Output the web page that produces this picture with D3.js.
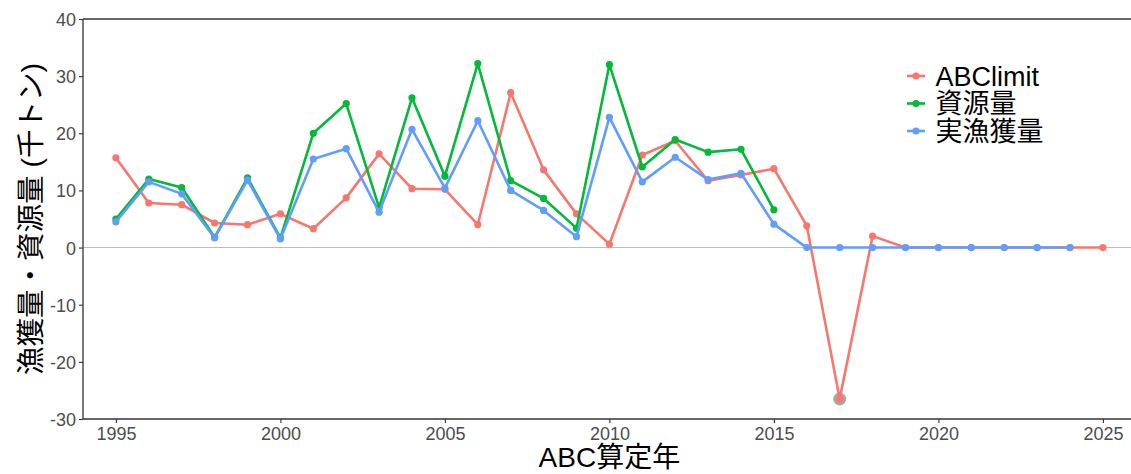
<!DOCTYPE html>
<html><head><meta charset="utf-8">
<script src="https://cdn.jsdelivr.net/npm/d3@7"></script>
<style>
body{margin:0;background:#fff;}
svg{display:block;font-family:"Liberation Sans","Noto Sans CJK JP",sans-serif;}
</style></head>
<body><svg id="c" width="1131" height="474"></svg>
<script>
const years = d3.range(1995, 2026);
const abcLimit = [15.7,7.8,7.5,4.3,4.0,5.9,3.3,8.7,16.4,10.3,10.2,4.0,27.1,13.6,5.9,0.6,16.2,18.7,11.7,12.7,13.8,3.8,-26.5,2.0,0,0,0,0,0,0,0];
const biomass = [5.0,12.0,10.5,1.8,12.2,1.7,20.0,25.2,7.0,26.2,12.5,32.2,11.7,8.6,3.4,32.0,14.1,18.9,16.7,17.2,6.6];
const catchVals = [4.5,11.5,9.4,1.7,11.8,1.5,15.5,17.3,6.2,20.7,10.4,22.2,10.0,6.5,1.9,22.8,11.5,15.8,11.9,13.0,4.1,0,0,0,0,0,0,0,0,0];
const highlightYears = [2017];
const seriesNames = ["ABClimit","資源量","実漁獲量"];
const seriesColors = ["#F8766D","#00BA38","#619CFF"];
const yTicks = [-30,-20,-10,0,10,20,30,40];
const xTicks = [1995,2000,2005,2010,2015,2020,2025];

const svg = d3.select("#c");
const L = 83, T = 19, B = 419;
const x = d3.scaleLinear().domain([1994, 2026]).range([L, L + 32*32.9]);
const y = d3.scaleLinear().domain([-30, 40]).range([B, T]);

// zero line
svg.append("line").attr("x1", L).attr("x2", 1131).attr("y1", y(0)).attr("y2", y(0))
  .attr("stroke", "#bebebe").attr("stroke-width", 1.1);

const series = [abcLimit, biomass, catchVals].map((vals, i) => ({
  name: seriesNames[i], color: seriesColors[i],
  pts: vals.map((v, j) => ({yr: years[j], v}))
}));

// highlight point(s)
svg.selectAll("circle.hl").data(highlightYears).enter().append("circle")
  .attr("cx", d => x(d)).attr("cy", d => y(abcLimit[years.indexOf(d)]))
  .attr("r", 6.5).attr("fill", "#a8a8a8");

const line = d3.line().x(d => x(d.yr)).y(d => y(d.v));
series.forEach(s => {
  svg.append("path").datum(s.pts).attr("d", line).attr("fill", "none")
    .attr("stroke", s.color).attr("stroke-width", 2.6).attr("stroke-linejoin", "round");
  svg.selectAll(null).data(s.pts).enter().append("circle")
    .attr("cx", d => x(d.yr)).attr("cy", d => y(d.v)).attr("r", 3.6).attr("fill", s.color);
});

// axes
const axisColor = "#333333";
const gy = svg.append("g").attr("transform", `translate(${L},0)`)
  .call(d3.axisLeft(y).tickValues(yTicks).tickSize(4).tickPadding(3).tickFormat(d => String(d)));
const gx = svg.append("g").attr("transform", `translate(0,${B})`)
  .call(d3.axisBottom(x).tickValues(xTicks).tickSize(4).tickPadding(3).tickFormat(d => String(d)));
[gx, gy].forEach(g => {
  g.select(".domain").remove();
  g.selectAll(".tick line").attr("stroke", axisColor).attr("stroke-width", 1.1);
  g.selectAll(".tick text").attr("fill", "#4d4d4d").style("font-size", "18px")
    .style("font-family", '"Liberation Sans",sans-serif');
});
gy.selectAll(".tick text").attr("dy", "0.36em");
gx.selectAll(".tick text").attr("dy", "0.78em");

svg.append("line").attr("x1", L).attr("x2", L).attr("y1", T).attr("y2", B).attr("stroke", axisColor).attr("stroke-width", 1.3);
svg.append("line").attr("x1", L).attr("x2", 1131).attr("y1", B).attr("y2", B).attr("stroke", axisColor).attr("stroke-width", 1.3);
svg.append("line").attr("x1", L).attr("x2", 1131).attr("y1", T).attr("y2", T).attr("stroke", axisColor).attr("stroke-width", 1.3);

// titles
svg.append("text").attr("x", x(2010)).attr("y", 467).attr("text-anchor", "middle")
  .style("font-size", "28px").attr("fill", "#000").text("ABC算定年");
svg.append("text").attr("transform", `translate(41,${(T+B)/2}) rotate(-90)`).attr("text-anchor", "middle")
  .style("font-size", "28.5px").attr("fill", "#000").text("漁獲量・資源量 (千トン)");

// legend
const lg = svg.append("g").attr("transform", "translate(907,76)");
series.forEach((s, i) => {
  const g = lg.append("g").attr("transform", `translate(0,${i*27.5})`);
  g.append("line").attr("x1", 0).attr("x2", 18).attr("stroke", s.color).attr("stroke-width", 2.6);
  g.append("circle").attr("cx", 9).attr("r", 3.6).attr("fill", s.color);
  g.append("text").attr("x", 28.5).attr("y", 0).attr("dy", "0.36em").style("font-size", "27px").attr("fill", "#000").text(s.name);
});
</script></body></html>
